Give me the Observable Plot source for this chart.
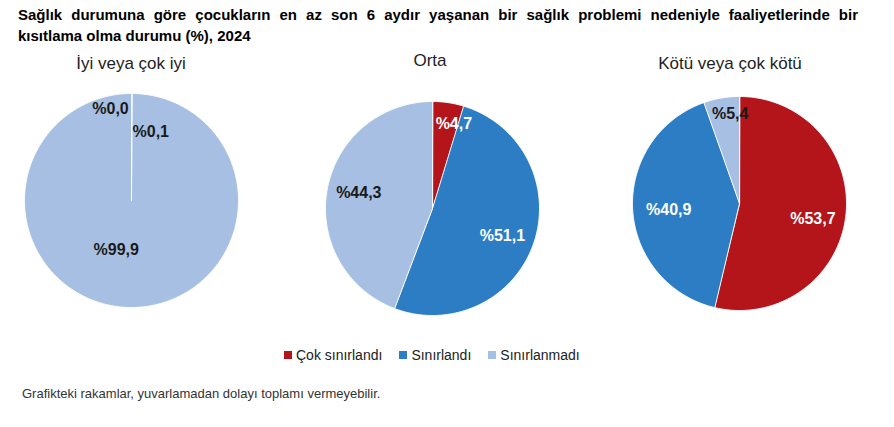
<!DOCTYPE html>
<html><head><meta charset="utf-8">
<script src="https://cdn.jsdelivr.net/npm/d3@7"></script>
<script src="https://cdn.jsdelivr.net/npm/@observablehq/plot@0.6"></script>
<style>
body{margin:0;background:#fff;font-family:"Liberation Sans",Arial,sans-serif;}
#chart{position:relative;width:894px;height:427px;overflow:hidden;background:#fff;}
.title{position:absolute;left:18px;top:4px;width:840px;font-weight:bold;font-size:15px;line-height:21px;color:#000;}
.l1{text-align:justify;text-align-last:justify;}
.ptitle{position:absolute;width:260px;text-align:center;font-size:17px;line-height:20px;color:#222;}
.pie{position:absolute;}
.legend{position:absolute;left:284px;top:347px;display:flex;align-items:center;font-size:14px;color:#222;}
.legend .item{display:flex;align-items:center;margin-right:17px;}
.legend .sw{width:8px;height:8px;margin-right:4px;}
.note{position:absolute;left:22px;top:386px;font-size:13px;color:#333;}
</style></head>
<body><div id="chart"></div>
<script>
// ---- data ----
const groups = ["İyi veya çok iyi", "Orta", "Kötü veya çok kötü"];
const categories = ["Çok sınırlandı", "Sınırlandı", "Sınırlanmadı"];
const cokSinirlandi = [0.0, 4.7, 53.7];
const sinirlandi = [0.1, 51.1, 40.9];
const sinirlanmadi = [99.9, 44.3, 5.4];
const colors = ["#B3151A", "#2D7DC5", "#A6BFE3"];
const titleText = "Sağlık durumuna göre çocukların en az son 6 aydır yaşanan bir sağlık problemi nedeniyle faaliyetlerinde bir";
const titleText2 = "kısıtlama olma durumu (%), 2024";
const noteText = "Grafikteki rakamlar, yuvarlamadan dolayı toplamı vermeyebilir.";

// ---- layout ----
const R = 107, HALF = 120;
const centers = [[131, 200], [432, 208], [739, 203]];
const titleX = [131, 430, 730];
const titleTop = [54, 51, 54];
// label pixel nudges from default radial position
const nudge = {
  "0-0": [-21, -1], "0-1": [19, 22], "0-2": [-15, -26],
  "1-0": [8, 5], "1-1": [-1, 3], "1-2": [0, -2],
  "2-0": [-1, 7], "2-1": [4, 2], "2-2": [6, 0]
};

const chart = document.getElementById("chart");
const t = document.createElement("div");
t.className = "title";
t.innerHTML = `<div class="l1">${titleText}</div><div>${titleText2}</div>`;
chart.appendChild(t);

const series = [cokSinirlandi, sinirlandi, sinirlanmadi];
const fmt = v => "%" + v.toFixed(1).replace(".", ",");

groups.forEach((g, gi) => {
  const vals = series.map(s => s[gi]);
  const total = d3.sum(vals);
  const polys = [];
  const labels = [];
  let acc = 0;
  vals.forEach((v, ci) => {
    const a0 = acc / total * 2 * Math.PI;
    acc += v;
    const a1 = acc / total * 2 * Math.PI;
    const key = categories[ci];
    if (v > 0) {
      polys.push({key, category: key, x: 0, y: 0});
      const n = Math.max(2, Math.ceil((a1 - a0) / (Math.PI / 180)));
      for (let i = 0; i <= n; i++) {
        const a = a0 + (a1 - a0) * i / n;
        polys.push({key, category: key, x: Math.sin(a), y: Math.cos(a)});
      }
    }
    const am = (a0 + a1) / 2;
    const rf = v / total < 0.06 ? 0.85 : 0.7;
    const nd = nudge[`${gi}-${ci}`] || [0, 0];
    labels.push({
      x: rf * Math.sin(am) + nd[0] / R,
      y: rf * Math.cos(am) - nd[1] / R,
      text: fmt(v),
      color: (ci === 2 || v < 1) ? "#1a1a1a" : "#ffffff"
    });
  });

  const svg = Plot.plot({
    width: 2 * HALF, height: 2 * HALF, margin: 0,
    x: {domain: [-HALF / R, HALF / R], axis: null},
    y: {domain: [-HALF / R, HALF / R], axis: null},
    color: {domain: categories, range: colors},
    style: {background: "transparent", fontFamily: "'Liberation Sans', Arial, sans-serif", overflow: "visible"},
    marks: [
      Plot.line(polys, {x: "x", y: "y", z: "key", fill: "category", stroke: "white", strokeWidth: 0.9, curve: "linear-closed"}),
      Plot.text(labels, {x: "x", y: "y", text: "text", fill: d => d.color, fontSize: 16, fontWeight: "bold"})
    ]
  });
  const wrap = document.createElement("div");
  wrap.className = "pie";
  wrap.style.left = (centers[gi][0] - HALF) + "px";
  wrap.style.top = (centers[gi][1] - HALF) + "px";
  wrap.appendChild(svg);
  chart.appendChild(wrap);

  const pt = document.createElement("div");
  pt.className = "ptitle";
  pt.textContent = g;
  pt.style.left = (titleX[gi] - 130) + "px";
  pt.style.top = titleTop[gi] + "px";
  chart.appendChild(pt);
});

const lg = document.createElement("div");
lg.className = "legend";
categories.forEach((c, i) => {
  const it = document.createElement("div");
  it.className = "item";
  it.innerHTML = `<div class="sw" style="background:${colors[i]}"></div><span>${c}</span>`;
  lg.appendChild(it);
});
chart.appendChild(lg);

const note = document.createElement("div");
note.className = "note";
note.textContent = noteText;
chart.appendChild(note);
</script></body></html>
